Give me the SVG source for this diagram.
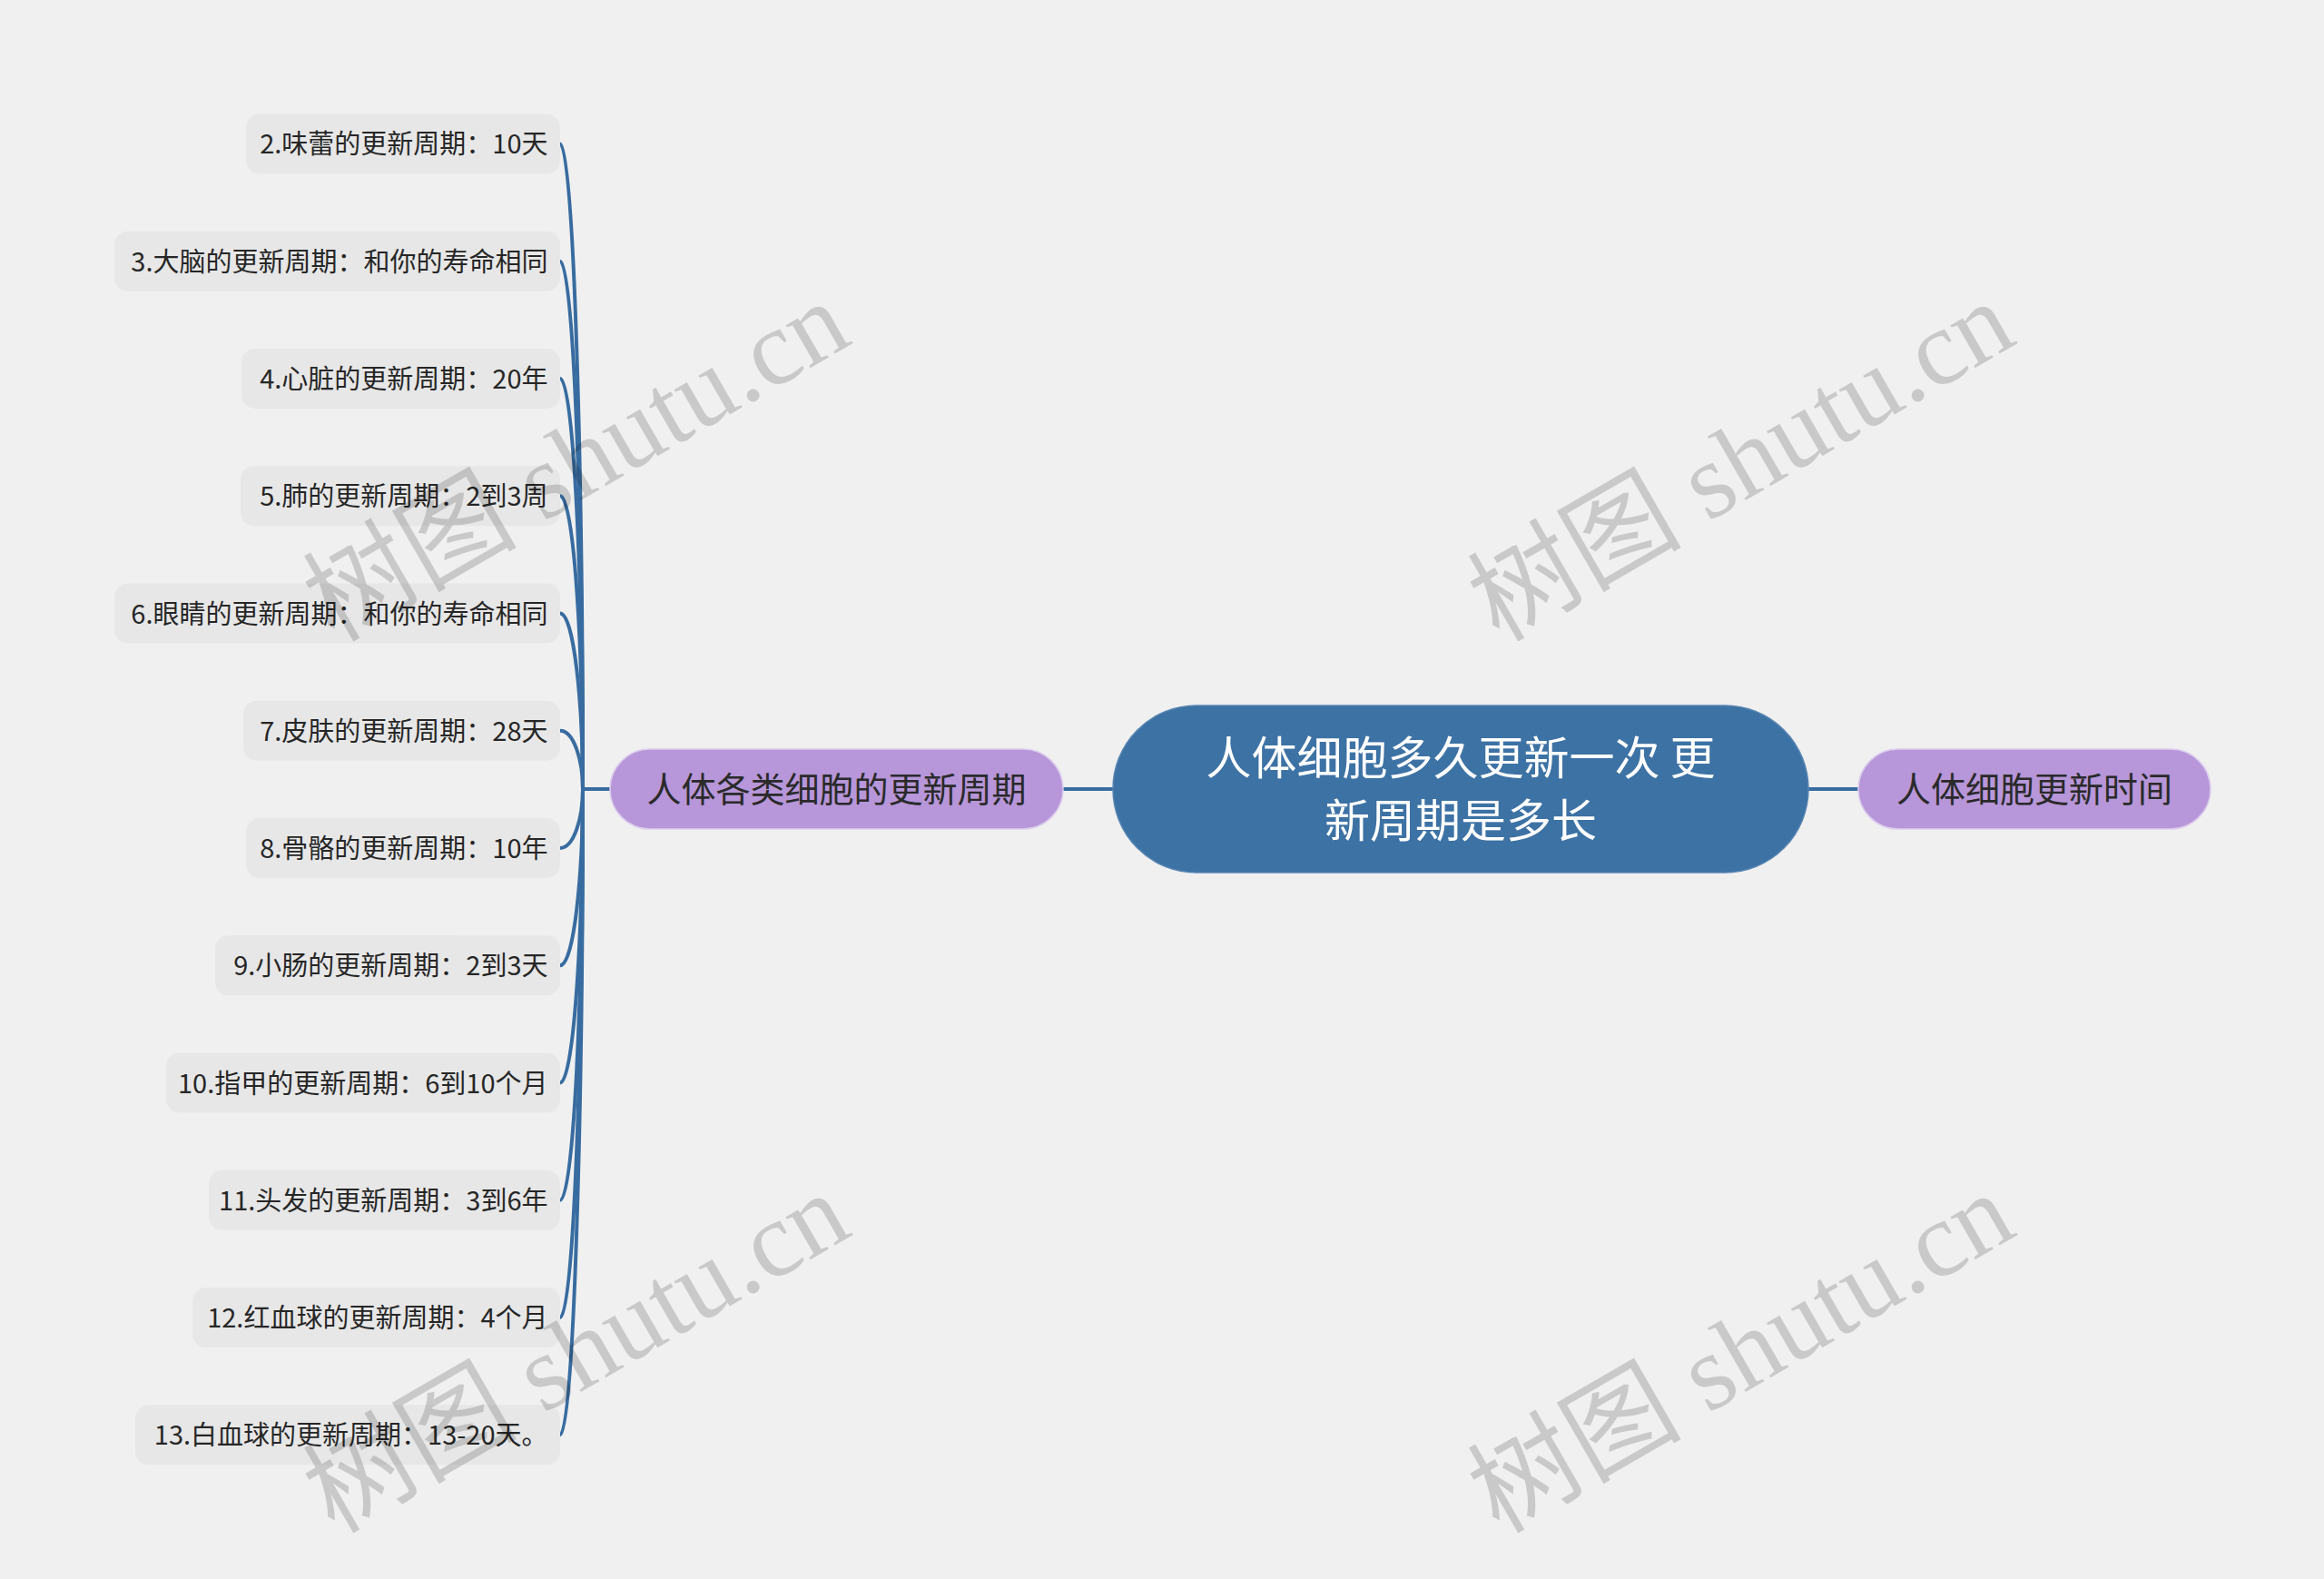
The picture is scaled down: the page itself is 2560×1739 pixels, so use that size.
<svg xmlns="http://www.w3.org/2000/svg" width="2560" height="1739" viewBox="0 0 2560 1739">
<style>
.bg{fill:#f0f0f0}
.leaf rect{fill:#e7e7e7}
.leaf text{font-family:"Noto Sans CJK SC","Noto Sans",sans-serif;font-size:29px;fill:#262626;text-anchor:end}
.sub rect{fill:#b796d9;stroke:#dccdee;stroke-width:1.5}
.sub text{font-family:"Noto Sans CJK SC","Noto Sans",sans-serif;font-size:38px;fill:#2a2a2a;text-anchor:middle}
.root rect{fill:#3d72a4;stroke:#5684b2;stroke-width:1.5}
.root text{font-family:"Noto Sans CJK SC","Noto Sans",sans-serif;font-size:50px;fill:#ffffff;text-anchor:middle}
.conn path,.conn line{fill:none;stroke:#386ca0;stroke-width:4;stroke-linecap:round}
.wm text{font-family:"Liberation Serif","Noto Sans CJK SC",serif;font-size:118px;fill:#000000;fill-opacity:0.16}
</style>
<rect class="bg" x="0" y="0" width="2560" height="1739"/>

<g id="connectors" class="conn">
<line x1="1171" y1="869" x2="1226" y2="869"/>
<line x1="1992" y1="869" x2="2047" y2="869"/>
<line x1="642" y1="869" x2="672" y2="869"/>
<path d="M617 158.4 C632 158.4 642 513.7 642 869"/>
<path d="M617 287.7 C632 287.7 642 578.3 642 869"/>
<path d="M617 416.9 C632 416.9 642 643 642 869"/>
<path d="M617 546.2 C632 546.2 642 707.6 642 869"/>
<path d="M617 675.5 C632 675.5 642 772.2 642 869"/>
<path d="M617 804.7 C632 804.7 642 836.9 642 869"/>
<path d="M617 934 C632 934 642 901.5 642 869"/>
<path d="M617 1063.3 C632 1063.3 642 966.1 642 869"/>
<path d="M617 1192.5 C632 1192.5 642 1030.8 642 869"/>
<path d="M617 1321.8 C632 1321.8 642 1095.4 642 869"/>
<path d="M617 1451.1 C632 1451.1 642 1160 642 869"/>
<path d="M617 1580.3 C632 1580.3 642 1224.7 642 869"/>
</g>

<g id="root" class="root">
<rect x="1226" y="777" width="766" height="184" rx="92" ry="92"/>
<text x="1609" y="853">人体细胞多久更新一次 更</text>
<text x="1609" y="922">新周期是多长</text>
</g>

<g id="branch-left" class="sub">
<rect x="672" y="825" width="499" height="88" rx="44" ry="44"/>
<text x="921.5" y="883">人体各类细胞的更新周期</text>
</g>

<g id="branch-right" class="sub">
<rect x="2047" y="825" width="388" height="88" rx="44" ry="44"/>
<text x="2241" y="883">人体细胞更新时间</text>
</g>

<g id="leaf2" class="leaf"><rect x="271" y="125.4" width="346" height="66" rx="15"/><text x="603.5" y="169.4">2.味蕾的更新周期：10天</text></g>
<g id="leaf3" class="leaf"><rect x="126" y="254.7" width="491" height="66" rx="15"/><text x="603.5" y="298.7">3.大脑的更新周期：和你的寿命相同</text></g>
<g id="leaf4" class="leaf"><rect x="266" y="383.9" width="351" height="66" rx="15"/><text x="603.5" y="427.9">4.心脏的更新周期：20年</text></g>
<g id="leaf5" class="leaf"><rect x="265" y="513.2" width="352" height="66" rx="15"/><text x="603.5" y="557.2">5.肺的更新周期：2到3周</text></g>
<g id="leaf6" class="leaf"><rect x="126" y="642.5" width="491" height="66" rx="15"/><text x="603.5" y="686.5">6.眼睛的更新周期：和你的寿命相同</text></g>
<g id="leaf7" class="leaf"><rect x="268" y="771.7" width="349" height="66" rx="15"/><text x="603.5" y="815.7">7.皮肤的更新周期：28天</text></g>
<g id="leaf8" class="leaf"><rect x="271" y="901" width="346" height="66" rx="15"/><text x="603.5" y="945">8.骨骼的更新周期：10年</text></g>
<g id="leaf9" class="leaf"><rect x="237" y="1030.3" width="380" height="66" rx="15"/><text x="603.5" y="1074.3">9.小肠的更新周期：2到3天</text></g>
<g id="leaf10" class="leaf"><rect x="183" y="1159.5" width="434" height="66" rx="15"/><text x="603.5" y="1203.5">10.指甲的更新周期：6到10个月</text></g>
<g id="leaf11" class="leaf"><rect x="230" y="1288.8" width="387" height="66" rx="15"/><text x="603.5" y="1332.8">11.头发的更新周期：3到6年</text></g>
<g id="leaf12" class="leaf"><rect x="212" y="1418.1" width="405" height="66" rx="15"/><text x="603.5" y="1462.1">12.红血球的更新周期：4个月</text></g>
<g id="leaf13" class="leaf"><rect x="149" y="1547.3" width="468" height="66" rx="15"/><text x="603.5" y="1591.3">13.白血球的更新周期：13-20天。</text></g>

<g id="watermarks" class="wm">
<text transform="translate(368 708) rotate(-30)">树图 shutu.cn</text>
<text transform="translate(1651 708) rotate(-30)">树图 shutu.cn</text>
<text transform="translate(368 1690) rotate(-30)">树图 shutu.cn</text>
<text transform="translate(1651 1690) rotate(-30)">树图 shutu.cn</text>
</g>
</svg>
